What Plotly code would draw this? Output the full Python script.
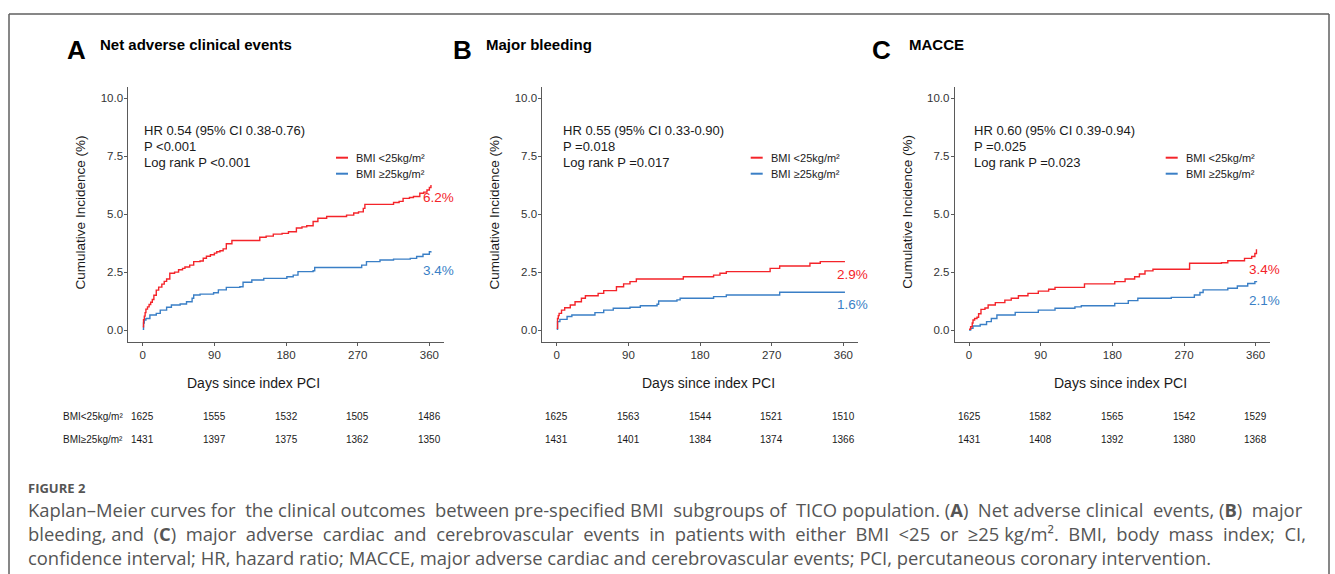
import plotly.graph_objects as go

W, H = 1335, 574

# ---------------- data ----------------
panel_letters = ["A", "B", "C"]
panel_titles = ["Net adverse clinical events", "Major bleeding", "MACCE"]
hr_text = ["HR 0.54 (95% CI 0.38-0.76)", "HR 0.55 (95% CI 0.33-0.90)", "HR 0.60 (95% CI 0.39-0.94)"]
p_text = ["P &lt;0.001", "P =0.018", "P =0.025"]
logrank_text = ["Log rank P &lt;0.001", "Log rank P =0.017", "Log rank P =0.023"]
series_names = ["BMI &lt;25kg/m²", "BMI ≥25kg/m²"]

a_low_t = [0, 1, 2, 3, 4, 6, 8, 10, 12, 14, 17, 20, 24, 27, 30, 34, 40, 45, 50, 53,
           59, 64, 72, 76, 80, 85, 90, 93, 97, 101, 105, 112, 147, 155, 164, 175, 183, 193, 200, 206,
           214, 220, 231, 256, 265, 271, 277, 279, 315, 322, 327, 335, 340, 348, 353, 357, 360, 362]
a_low_v = [0.14, 0.45, 0.6, 0.75, 0.9, 1.0, 1.1, 1.2, 1.32, 1.5, 1.72, 1.85, 1.98, 2.1, 2.2, 2.45, 2.5, 2.6, 2.66, 2.72,
           2.8, 2.95, 2.98, 3.1, 3.18, 3.25, 3.32, 3.38, 3.42, 3.5, 3.72, 3.86, 4.0, 4.05, 4.14, 4.17, 4.24, 4.4, 4.45, 4.5,
           4.68, 4.82, 4.9, 4.96, 5.05, 5.1, 5.25, 5.42, 5.5, 5.55, 5.68, 5.72, 5.76, 5.9, 5.95, 6.04, 6.15, 6.26]
a_high_t = [0, 1, 2, 4, 9, 17, 22, 30, 36, 47, 55, 62, 64, 72, 89, 95, 105, 122, 126, 137,
            152, 181, 189, 195, 214, 216, 273, 275, 281, 298, 315, 336, 344, 352, 360, 362]
a_high_v = [0.03, 0.3, 0.43, 0.5, 0.65, 0.72, 0.86, 0.98, 1.08, 1.12, 1.22, 1.37, 1.51, 1.55, 1.61, 1.73, 1.84, 1.87, 2.06, 2.16,
            2.23, 2.3, 2.37, 2.52, 2.56, 2.7, 2.7, 2.8, 2.95, 3.02, 3.06, 3.09, 3.17, 3.27, 3.38, 3.4]

b_low_t = [0, 1, 2, 3, 6, 10, 17, 23, 31, 36, 52, 59, 75, 84, 92, 100, 159, 197, 205, 213, 268, 280, 318, 331, 362]
b_low_v = [0.07, 0.5, 0.62, 0.72, 0.86, 0.96, 1.08, 1.22, 1.37, 1.48, 1.58, 1.7, 1.87, 1.99, 2.09, 2.2, 2.3, 2.37, 2.45, 2.52,
           2.66, 2.76, 2.88, 2.95, 2.95]
b_high_t = [0, 1, 4, 13, 19, 48, 59, 71, 92, 105, 126, 128, 151, 155, 197, 213, 280, 362]
b_high_v = [0.03, 0.36, 0.46, 0.58, 0.65, 0.75, 0.86, 0.94, 0.98, 1.05, 1.11, 1.25, 1.3, 1.37, 1.44, 1.51, 1.63, 1.63]

c_low_t = [0, 2, 4, 5, 7, 10, 12, 15, 20, 24, 33, 45, 53, 62, 74, 87, 100, 108, 145, 183,
           196, 208, 214, 221, 231, 277, 317, 325, 346, 355, 359, 361]
c_low_v = [0.03, 0.14, 0.3, 0.43, 0.5, 0.55, 0.7, 0.89, 0.95, 1.08, 1.18, 1.29, 1.37, 1.48, 1.58, 1.68, 1.76, 1.84, 1.99, 2.09,
           2.2, 2.3, 2.42, 2.55, 2.62, 2.88, 2.9, 2.99, 3.09, 3.17, 3.3, 3.48]
c_high_t = [0, 2, 5, 14, 22, 28, 35, 58, 87, 108, 133, 141, 183, 200, 212, 254, 283, 290, 294, 325, 337, 350, 359, 361]
c_high_v = [0.0, 0.07, 0.17, 0.24, 0.36, 0.5, 0.65, 0.76, 0.86, 0.94, 1.0, 1.05, 1.15, 1.27, 1.37, 1.41, 1.51, 1.62, 1.73, 1.8,
            1.9, 2.01, 2.09, 2.12]

end_low = ["6.2%", "2.9%", "3.4%"]
end_high = ["3.4%", "1.6%", "2.1%"]

risk_days = [0, 90, 180, 270, 360]
risk_row_labels = ["BMI&lt;25kg/m²", "BMI≥25kg/m²"]
a_risk_low = [1625, 1555, 1532, 1505, 1486]
a_risk_high = [1431, 1397, 1375, 1362, 1350]
b_risk_low = [1625, 1563, 1544, 1521, 1510]
b_risk_high = [1431, 1401, 1384, 1374, 1366]
c_risk_low = [1625, 1582, 1565, 1542, 1529]
c_risk_high = [1431, 1408, 1392, 1380, 1368]

x_ticks = [0, 90, 180, 270, 360]
y_ticks = [0, 2.5, 5, 7.5, 10]
y_ticktext = ["0.0", "2.5", "5.0", "7.5", "10.0"]

caption_head = "FIGURE 2"
caption_lines = [
    "Kaplan–Meier curves for the clinical outcomes between pre-specified BMI subgroups of TICO population. (<b>A</b>) Net adverse clinical events, (<b>B</b>) major",
    "bleeding, and (<b>C</b>) major adverse cardiac and cerebrovascular events in patients with either BMI &lt;25 or ≥25\u00a0kg/m² . BMI, body mass index; CI,",
    "confidence interval; HR, hazard ratio; MACCE, major adverse cardiac and cerebrovascular events; PCI, percutaneous coronary intervention.",
]

# ---------------- style ----------------
RED = "#f4242a"
BLUE = "#3a7fc6"
AXC = "#5a5a5a"
TXT = "#1a1a1a"
FONT = "Liberation Sans, Arial, sans-serif"

def X(px):
    return px / W

def Y(py):
    return 1 - py / H

def justify(line, extra):
    """pad inter-word gaps with no-break spaces to imitate justified text"""
    words = line.replace(" .", ".").split(" ")
    n = len(words) - 1
    out = words[0]
    for g in range(n):
        k = (g + 1) * extra // n - g * extra // n
        out += " " + "\u00a0" * k + words[g + 1]
    return out

panels = [
    dict(x0=128.4, x1=443.7, low=(a_low_t, a_low_v), high=(a_high_t, a_high_v),
         risk=(a_risk_low, a_risk_high), hr_x=143.3, leg_x=336, letter_x=67, title_x=99,
         xtitle_c=253, lab_low=(372, 5.74), lab_high=(372, 2.55)),
    dict(x0=542.4, x1=857.7, low=(b_low_t, b_low_v), high=(b_high_t, b_high_v),
         risk=(b_risk_low, b_risk_high), hr_x=561.7, leg_x=750.7, letter_x=453, title_x=485,
         xtitle_c=708, lab_low=(372, 2.4), lab_high=(372, 1.08)),
    dict(x0=954.7, x1=1270.0, low=(c_low_t, c_low_v), high=(c_high_t, c_high_v),
         risk=(c_risk_low, c_risk_high), hr_x=973.3, leg_x=1165.7, letter_x=872, title_x=908,
         xtitle_c=1120, lab_low=(371, 2.63), lab_high=(371, 1.29)),
]
Y_TOP, Y_BOT = 86.7, 341.6

fig = go.Figure()
annotations = []
shapes = []

for i, p in enumerate(panels):
    sfx = "" if i == 0 else str(i + 1)
    xa, ya = "x" + sfx, "y" + sfx
    for (t, v), col in ((p["high"], BLUE), (p["low"], RED)):
        fig.add_trace(go.Scatter(x=t, y=v, mode="lines", line=dict(color=col, width=1.4, shape="hv"),
                                 xaxis=xa, yaxis=ya, showlegend=False, hoverinfo="skip"))
    axcommon = dict(showline=True, linecolor=AXC, linewidth=1, ticks="outside", ticklen=3,
                    tickcolor=AXC, tickwidth=1, showgrid=False, zeroline=False,
                    tickfont=dict(family=FONT, size=11.5, color="#333333"))
    fig.update_layout(**{
        "xaxis" + sfx: dict(domain=[X(p["x0"]), X(p["x1"])], range=[-18, 378], tickvals=x_ticks,
                            anchor=ya, **axcommon),
        "yaxis" + sfx: dict(domain=[Y(Y_BOT), Y(Y_TOP)], range=[-0.5, 10.5], tickvals=y_ticks,
                            ticktext=y_ticktext, anchor=xa, ticklabelstandoff=-1, **axcommon),
    })
    # axis titles
    annotations.append(dict(x=X(p["x0"] - 48), y=Y(212), xref="paper", yref="paper", text="Cumulative Incidence (%)",
                            textangle=-90, showarrow=False, font=dict(family=FONT, size=13.5, color=TXT),
                            xanchor="center", yanchor="middle"))
    annotations.append(dict(x=X(p["xtitle_c"]), y=Y(383), xref="paper", yref="paper", text="Days since index PCI",
                            showarrow=False, font=dict(family=FONT, size=14, color=TXT),
                            xanchor="center", yanchor="middle"))
    # panel letter + title
    annotations.append(dict(x=X(p["letter_x"] - 2), y=Y(50), xref="paper", yref="paper", text="<b>%s</b>" % panel_letters[i],
                            showarrow=False, font=dict(family=FONT, size=26, color="#000"),
                            xanchor="left", yanchor="middle"))
    annotations.append(dict(x=X(p["title_x"] - 1), y=Y(44), xref="paper", yref="paper", text="<b>%s</b>" % panel_titles[i],
                            showarrow=False, font=dict(family=FONT, size=15, color="#000"),
                            xanchor="left", yanchor="middle"))
    # stats text
    for txt, yy in ((hr_text[i], 130), (p_text[i], 146), (logrank_text[i], 162)):
        annotations.append(dict(x=X(p["hr_x"] - 1), y=Y(yy), xref="paper", yref="paper", text=txt,
                                showarrow=False, font=dict(family=FONT, size=13, color=TXT),
                                xanchor="left", yanchor="middle"))
    # legend
    for name, col, yy in ((series_names[0], RED, 157.7), (series_names[1], BLUE, 173.7)):
        shapes.append(dict(type="line", xref="paper", yref="paper", x0=X(p["leg_x"]), x1=X(p["leg_x"] + 12),
                           y0=Y(yy), y1=Y(yy), line=dict(color=col, width=2)))
        annotations.append(dict(x=X(p["leg_x"] + 18), y=Y(yy), xref="paper", yref="paper", text=name,
                                showarrow=False, font=dict(family=FONT, size=11, color=TXT),
                                xanchor="left", yanchor="middle"))
    # end labels
    for txt, pos, col in ((end_low[i], p["lab_low"], RED), (end_high[i], p["lab_high"], BLUE)):
        annotations.append(dict(x=pos[0], y=pos[1], xref=xa, yref=ya, text=txt, showarrow=False,
                                font=dict(family=FONT, size=13.5, color=col), xanchor="center", yanchor="middle"))
    # risk table
    for row, yy in ((p["risk"][0], 416), (p["risk"][1], 439)):
        for d, n in zip(risk_days, row):
            annotations.append(dict(x=d, y=Y(yy), xref=xa, yref="paper", text=str(n), showarrow=False,
                                    font=dict(family=FONT, size=10, color=TXT), xanchor="center", yanchor="middle"))

for lab, yy in zip(risk_row_labels, (416, 439)):
    annotations.append(dict(x=X(61), y=Y(yy), xref="paper", yref="paper", text=lab, showarrow=False,
                            font=dict(family=FONT, size=10, color=TXT), xanchor="left", yanchor="middle"))

# caption
CAPF = "Open Sans, Noto Sans, sans-serif"
annotations.append(dict(x=X(26), y=Y(488), xref="paper", yref="paper", text="<b>%s</b>" % caption_head, showarrow=False,
                        font=dict(family=CAPF, size=13, color="#555555"), xanchor="left", yanchor="middle"))
cap_text = [justify(caption_lines[0], 7), justify(caption_lines[1], 19), caption_lines[2]]
annotations.append(dict(x=X(26), y=Y(533), xref="paper", yref="paper", text="<br>".join(cap_text), showarrow=False,
                        align="left", font=dict(family=CAPF, size=18.4, color="#555555"),
                        xanchor="left", yanchor="middle"))

# frame
shapes.append(dict(type="line", xref="paper", yref="paper", x0=X(9), x1=X(1329), y0=Y(14), y1=Y(14),
                   line=dict(color="#5f5f5f", width=1.5)))
shapes.append(dict(type="line", xref="paper", yref="paper", x0=X(9), x1=X(9), y0=Y(14), y1=Y(580),
                   line=dict(color="#5f5f5f", width=1.5)))
shapes.append(dict(type="line", xref="paper", yref="paper", x0=X(1329), x1=X(1329), y0=Y(14), y1=Y(580),
                   line=dict(color="#5f5f5f", width=1.5)))

fig.update_layout(width=W, height=H, margin=dict(l=0, r=0, t=0, b=0), paper_bgcolor="white",
                  plot_bgcolor="white", annotations=annotations, shapes=shapes, showlegend=False)
fig.write_html("out.html", config={"displayModeBar": False})
